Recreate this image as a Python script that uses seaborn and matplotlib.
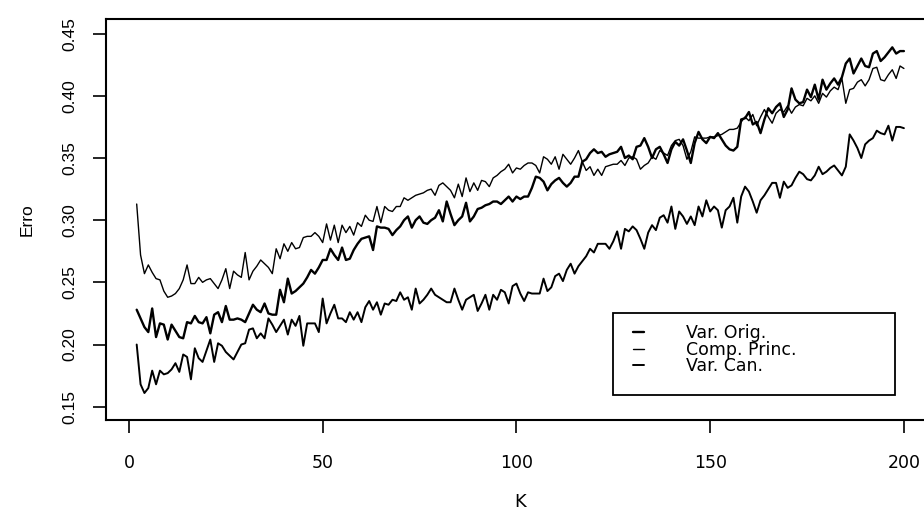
import matplotlib
matplotlib.use("Agg")
import matplotlib.pyplot as plt
import seaborn as sns
import pandas as pd
from matplotlib.lines import Line2D
from matplotlib.patches import Rectangle

# K = 2 .. 200, one error value per K
k_values = list(range(2, 201))

var_orig = [
    0.228, 0.221, 0.214, 0.210, 0.229, 0.206, 0.217, 0.216, 0.204, 0.216,
    0.211, 0.206, 0.205, 0.218, 0.217, 0.223, 0.218, 0.217, 0.222, 0.209,
    0.224, 0.226, 0.218, 0.231, 0.220, 0.220, 0.221, 0.220, 0.218, 0.225,
    0.232, 0.228, 0.226, 0.233, 0.225, 0.224, 0.224, 0.244, 0.234, 0.253,
    0.241, 0.243, 0.246, 0.249, 0.254, 0.260, 0.257, 0.262, 0.268, 0.268,
    0.277, 0.272, 0.268, 0.278, 0.268, 0.269, 0.276, 0.281, 0.285, 0.286,
    0.287, 0.276, 0.295, 0.294, 0.294, 0.293, 0.288, 0.292, 0.295, 0.300,
    0.303, 0.294, 0.300, 0.303, 0.298, 0.297, 0.300, 0.302, 0.308, 0.299,
    0.315, 0.305, 0.296, 0.300, 0.303, 0.314, 0.299, 0.303, 0.309, 0.310,
    0.312, 0.313, 0.315, 0.315, 0.313, 0.316, 0.319, 0.315, 0.319, 0.317,
    0.319, 0.319, 0.326, 0.335, 0.334, 0.331, 0.324, 0.329, 0.332, 0.334,
    0.330, 0.327, 0.330, 0.335, 0.335, 0.347, 0.349, 0.354, 0.357, 0.354,
    0.355, 0.351, 0.353, 0.354, 0.355, 0.359, 0.350, 0.352, 0.349, 0.359,
    0.360, 0.366, 0.359, 0.350, 0.357, 0.359, 0.353, 0.346, 0.357, 0.363,
    0.360, 0.365, 0.356, 0.346, 0.362, 0.371, 0.365, 0.362, 0.367, 0.366,
    0.370, 0.365, 0.360, 0.357, 0.356, 0.359, 0.381, 0.382, 0.387, 0.377,
    0.379, 0.370, 0.381, 0.390, 0.386, 0.391, 0.394, 0.383, 0.389, 0.406,
    0.397, 0.394, 0.395, 0.405, 0.399, 0.409, 0.397, 0.413, 0.405, 0.410,
    0.414, 0.409, 0.415, 0.426, 0.430, 0.418, 0.424, 0.430, 0.424, 0.423,
    0.434, 0.436, 0.428, 0.431, 0.435, 0.439, 0.434, 0.436, 0.436,
]

comp_princ = [
    0.313, 0.272, 0.257, 0.264, 0.258, 0.253, 0.252, 0.243, 0.238, 0.239,
    0.241, 0.245, 0.252, 0.264, 0.249, 0.249, 0.254, 0.250, 0.252, 0.253,
    0.249, 0.245, 0.252, 0.261, 0.245, 0.259, 0.256, 0.254, 0.274, 0.252,
    0.259, 0.263, 0.268, 0.265, 0.262, 0.257, 0.277, 0.269, 0.281, 0.275,
    0.282, 0.277, 0.278, 0.286, 0.287, 0.287, 0.290, 0.287, 0.282, 0.297,
    0.284, 0.296, 0.282, 0.296, 0.290, 0.295, 0.288, 0.298, 0.295, 0.304,
    0.300, 0.299, 0.311, 0.298, 0.311, 0.308, 0.307, 0.311, 0.311, 0.318,
    0.316, 0.318, 0.320, 0.321, 0.322, 0.324, 0.325, 0.320, 0.328, 0.330,
    0.327, 0.324, 0.318, 0.329, 0.319, 0.334, 0.323, 0.330, 0.324, 0.332,
    0.331, 0.327, 0.334, 0.336, 0.339, 0.341, 0.345, 0.338, 0.342, 0.341,
    0.344, 0.346, 0.346, 0.344, 0.338, 0.351, 0.349, 0.345, 0.351, 0.341,
    0.353, 0.349, 0.345, 0.350, 0.356, 0.347, 0.340, 0.343, 0.336, 0.341,
    0.336, 0.343, 0.344, 0.345, 0.345, 0.348, 0.344, 0.350, 0.351, 0.349,
    0.341, 0.344, 0.346, 0.351, 0.349, 0.356, 0.354, 0.352, 0.360, 0.364,
    0.365, 0.360, 0.349, 0.355, 0.367, 0.366, 0.366, 0.366, 0.367, 0.367,
    0.368, 0.369, 0.371, 0.373, 0.373, 0.374, 0.379, 0.383, 0.380, 0.385,
    0.376, 0.383, 0.389, 0.383, 0.378, 0.386, 0.389, 0.387, 0.392, 0.386,
    0.391, 0.393, 0.392, 0.398, 0.396, 0.400, 0.394, 0.402, 0.399, 0.404,
    0.407, 0.405, 0.414, 0.394, 0.405, 0.406, 0.411, 0.413, 0.408, 0.413,
    0.422, 0.423, 0.413, 0.412, 0.417, 0.421, 0.414, 0.424, 0.422,
]

var_can = [
    0.200, 0.168, 0.161, 0.165, 0.179, 0.168, 0.179, 0.176, 0.177, 0.180,
    0.185, 0.178, 0.192, 0.190, 0.172, 0.197, 0.189, 0.186, 0.195, 0.204,
    0.186, 0.201, 0.199, 0.194, 0.191, 0.188, 0.194, 0.200, 0.201, 0.212,
    0.213, 0.205, 0.209, 0.205, 0.221, 0.216, 0.210, 0.215, 0.220, 0.208,
    0.220, 0.215, 0.223, 0.199, 0.217, 0.217, 0.217, 0.210, 0.237, 0.217,
    0.225, 0.232, 0.221, 0.221, 0.218, 0.226, 0.220, 0.226, 0.218, 0.230,
    0.235, 0.228, 0.234, 0.224, 0.233, 0.232, 0.236, 0.235, 0.242, 0.236,
    0.238, 0.228, 0.245, 0.233, 0.236, 0.240, 0.245, 0.240, 0.238, 0.236,
    0.234, 0.234, 0.245, 0.236, 0.228, 0.236, 0.238, 0.240, 0.227, 0.233,
    0.240, 0.228, 0.240, 0.236, 0.244, 0.242, 0.233, 0.247, 0.249, 0.241,
    0.235, 0.242, 0.241, 0.241, 0.241, 0.253, 0.243, 0.246, 0.255, 0.257,
    0.251, 0.260, 0.265, 0.257, 0.263, 0.267, 0.271, 0.277, 0.274, 0.281,
    0.281, 0.281, 0.277, 0.283, 0.291, 0.277, 0.293, 0.291, 0.295, 0.292,
    0.285, 0.277, 0.290, 0.296, 0.292, 0.302, 0.304, 0.298, 0.311, 0.293,
    0.307, 0.303, 0.297, 0.303, 0.296, 0.311, 0.303, 0.316, 0.307, 0.311,
    0.308, 0.294, 0.308, 0.311, 0.318, 0.298, 0.319, 0.327, 0.323, 0.315,
    0.306, 0.316, 0.320, 0.325, 0.330, 0.330, 0.318, 0.331, 0.326, 0.328,
    0.334, 0.339, 0.337, 0.333, 0.332, 0.336, 0.343, 0.337, 0.339, 0.342,
    0.344, 0.340, 0.336, 0.343, 0.369, 0.364, 0.358, 0.350, 0.361, 0.364,
    0.366, 0.372, 0.370, 0.369, 0.376, 0.364, 0.375, 0.375, 0.374,
]

series_names = ["Var. Orig.", "Comp. Princ.", "Var. Can."]
series_values = [var_orig, comp_princ, var_can]
line_widths = [1.7, 1.0, 1.4]

x_ticks = [0, 50, 100, 150, 200]
y_ticks = [0.15, 0.20, 0.25, 0.30, 0.35, 0.40, 0.45]

df = pd.concat(
    [pd.DataFrame({"K": k_values, "Erro": vals, "serie": name})
     for name, vals in zip(series_names, series_values)],
    ignore_index=True,
)

sns.set_style("ticks")
plt.rcParams["font.family"] = ["DejaVu Sans"]
plt.rcParams["text.color"] = "black"
plt.rcParams["axes.labelcolor"] = "black"
narrow = ["Liberation Sans", "DejaVu Sans"]

fig = plt.figure(figsize=(9.24, 5.11), dpi=100)
ax = fig.add_axes([106 / 924, 91 / 511, 828.6 / 924, 401 / 511])

for name, lw in zip(series_names, line_widths):
    sns.lineplot(data=df[df["serie"] == name], x="K", y="Erro",
                 color="black", linewidth=lw, ax=ax, legend=False)

ax.set_xlim(-5.92, 207.92)
ax.set_ylim(0.1393, 0.4618)
ax.set_xticks(x_ticks)
ax.set_xticklabels([str(t) for t in x_ticks], fontsize=12.5)
ax.set_yticks(y_ticks)
ax.set_yticklabels([f"{t:.2f}" for t in y_ticks], family=narrow, fontsize=12.5,
                   rotation=90, va="center")

for side in ["left", "bottom", "top", "right"]:
    ax.spines[side].set_color("black")
    ax.spines[side].set_linewidth(1.5)

ax.tick_params(axis="both", direction="out", length=9.5, width=1.2,
               colors="black")
ax.tick_params(axis="x", pad=15)
ax.tick_params(axis="y", pad=11)

ax.set_xlabel("K", fontsize=13, labelpad=15)
ax.set_ylabel("Erro", family=narrow, fontsize=12.5, labelpad=20)

# legend: short line handles, box drawn separately as in the original
handles = [Line2D([], [], color="black", linewidth=lw) for lw in line_widths]
ax.legend(handles, series_names, loc="upper left",
          bbox_to_anchor=(633 / 924, (511 - 324) / 511),
          bbox_transform=fig.transFigure, frameon=False, borderpad=0,
          borderaxespad=0, handlelength=0.65, handletextpad=2.4,
          labelspacing=-0.08, fontsize=12.5, labelcolor="black")
fig.add_artist(Rectangle((613 / 924, (511 - 395) / 511), 282 / 924, 82 / 511,
                         transform=fig.transFigure, fill=False,
                         edgecolor="black", linewidth=1.3))

fig.savefig("out.png", dpi=100)
